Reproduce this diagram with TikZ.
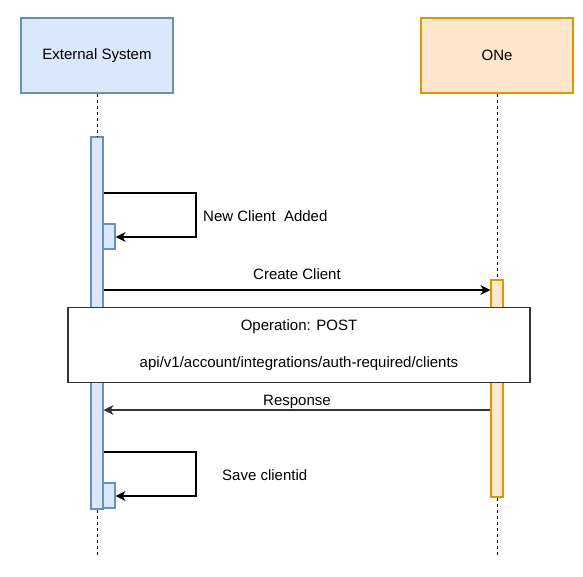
\documentclass[tikz,border=0pt]{standalone}
\usepackage{xcolor}
\usepackage{fontspec}
\setmainfont{Liberation Sans}
\usetikzlibrary{positioning,calc,arrows.meta}
\definecolor{extfill}{HTML}{DAE8FC}
\definecolor{extline}{HTML}{6C8EBF}
\definecolor{onefill}{HTML}{FFE6CC}
\definecolor{oneline}{HTML}{D79B00}
\definecolor{opline}{HTML}{333333}
\tikzset{
  actor/.style={draw, line width=1.2pt, minimum width=152pt, minimum height=75pt, inner sep=0pt},
  bar/.style={draw, line width=1.2pt, minimum width=12pt, inner sep=0pt},
  life/.style={line width=1pt, dash pattern=on 3pt off 3pt},
  msg/.style={line width=1.2pt, -{Stealth[length=10pt,width=10pt,inset=3pt]}},
  lbl/.style={font=\fontsize{15}{18}\selectfont, inner sep=0pt}
}
\begin{document}
\begin{tikzpicture}[x=1pt, y=-1pt, font=\fontsize{15}{18}\selectfont]
    \useasboundingbox (0,0) rectangle (583,576);

    % Actors
    \node[actor, fill=extfill, draw=extline] (ext) at (97,55.5) {External System};
    \node[actor, fill=onefill, draw=oneline] (one) at (497,55.5) {ONe};

    % Activations
    \node[bar, fill=extfill, draw=extline, minimum height=372pt] (extbar) at (97,323) {};
    \node[bar, fill=onefill, draw=oneline, minimum height=217pt] (onebar) at (497,388.5) {};
    \node[bar, fill=extfill, draw=extline, minimum height=25pt] (newbar) at (109,236.5) {};
    \node[bar, fill=extfill, draw=extline, minimum height=25pt] (savebar) at (109,495.5) {};

    % Lifelines
    \coordinate (extend) at (97,555);
    \coordinate (oneend) at (497,555);
    \draw[life] (ext.south) -- (extbar.north);
    \draw[life] (extbar.south) -- (extend);
    \draw[life] (one.south) -- (onebar.north);
    \draw[life] (onebar.south) -- (oneend);

    % New client
    \coordinate (newturn) at (196,237);
    \draw[msg] (extbar.east |- 0,193) -| (newturn) -- (newbar.east |- newturn);
    \node[lbl, anchor=west] (newlbl) at (203,216) {New Client\ \ Added};

    % Create client
    \draw[msg] (extbar.east |- 0,290) -- (onebar.west |- 0,290)
        node[lbl, midway, above=10pt] (createlbl) {Create Client};

    % Operation
    \node[draw=opline, fill=white, line width=1.5pt, minimum width=462pt, minimum height=75pt,
          align=center] (op) at (299,345)
        {Operation: POST\\[19pt]api/v1/account/integrations/auth-required/clients};

    % Response
    \draw[msg, draw=opline] (onebar.west |- 0,410) -- (extbar.east |- 0,410)
        node[lbl, midway, above=1pt] (resplbl) {Response};

    % Save clientid
    \coordinate (saveturn) at (196,496);
    \draw[msg] (extbar.east |- 0,452) -| (saveturn) -- (savebar.east |- saveturn);
    \node[lbl, anchor=west] (savelbl) at (222,475) {Save clientid};
\end{tikzpicture}
\end{document}
